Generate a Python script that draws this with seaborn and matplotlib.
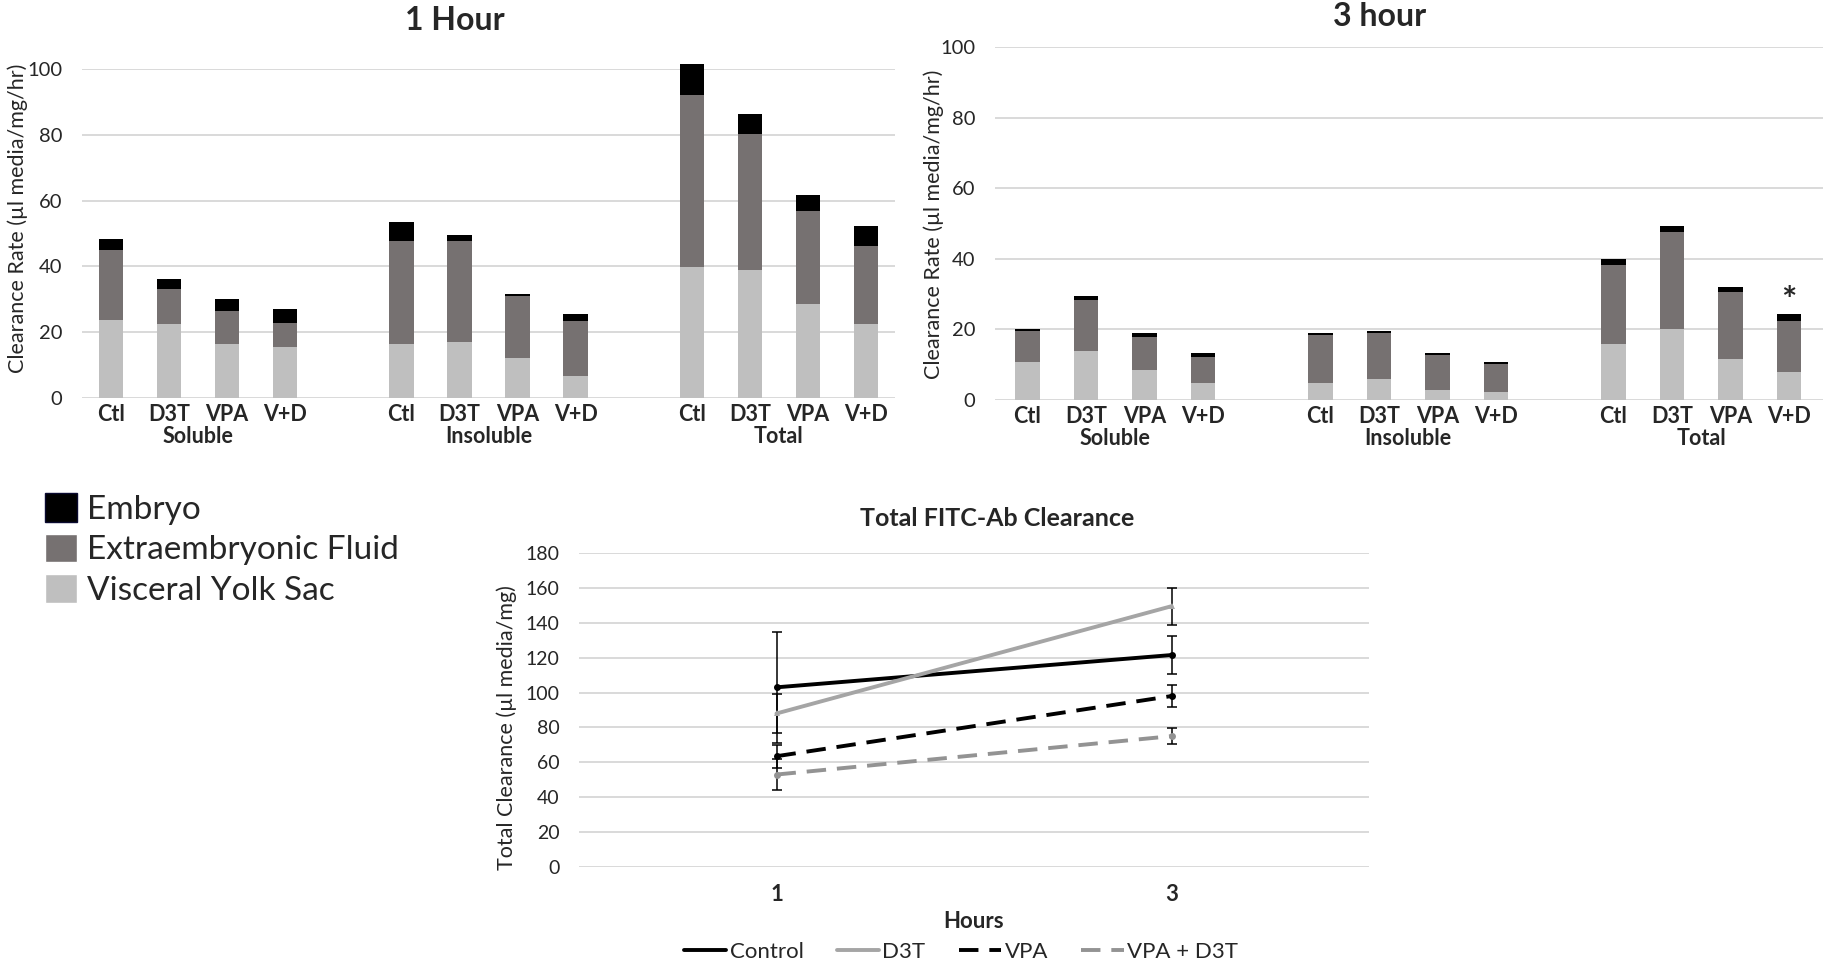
import numpy as np
import pandas as pd
import seaborn as sns
import matplotlib.pyplot as plt
from matplotlib.patches import Patch
from matplotlib.lines import Line2D

sns.set_theme(style="white")
plt.rcParams["font.family"] = ["Lato", "DejaVu Sans"]

COLORS = {
    "embryo": "#000000",
    "fluid": "#767171",
    "yolk": "#BFBFBF",
    "grid": "#D9D9D9",
}

groups = ["Soluble", "Insoluble", "Total"]
treatments = ["Ctl", "D3T", "VPA", "V+D"]

# 1 hour - stacked segments (Soluble x4, Insoluble x4, Total x4)
h1_yolk = [23.6, 22.4, 16.3, 15.5, 16.3, 16.9, 12.3, 6.8, 39.7, 39.0, 28.5, 22.4]
h1_fluid = [21.3, 10.6, 10.0, 7.4, 31.4, 30.9, 18.6, 16.6, 52.4, 41.2, 28.4, 23.8]
h1_embryo = [3.3, 3.2, 3.9, 4.0, 5.8, 1.7, 0.6, 2.1, 9.5, 6.0, 4.7, 6.0]

# 3 hour
h3_yolk = [10.9, 14.0, 8.5, 4.7, 4.7, 6.0, 2.8, 2.2, 15.9, 20.1, 11.5, 7.8]
h3_fluid = [8.7, 14.4, 9.3, 7.5, 13.7, 13.1, 9.9, 8.1, 22.4, 27.4, 19.2, 14.7]
h3_embryo = [0.5, 1.1, 1.2, 1.1, 0.7, 0.5, 0.5, 0.6, 1.8, 1.8, 1.3, 1.9]

# Total FITC-Ab clearance
hours = ["1", "3"]
series = ["Control", "D3T", "VPA", "VPA + D3T"]
clear_mean = {
    "Control": [103.0, 121.5],
    "D3T": [88.0, 149.5],
    "VPA": [63.5, 98.0],
    "VPA + D3T": [53.0, 75.0],
}
clear_err = {
    "Control": [32.0, 11.0],
    "D3T": [11.0, 10.5],
    "VPA": [6.5, 6.5],
    "VPA + D3T": [9.0, 4.6],
}
line_colors = {"Control": "#000000", "D3T": "#A5A5A5", "VPA": "#000000", "VPA + D3T": "#939393"}
line_dashes = {"Control": "", "D3T": "", "VPA": (5, 2.8), "VPA + D3T": (5, 2.8)}
line_markers = {"Control": "o", "D3T": "^", "VPA": "o", "VPA + D3T": "o"}

# orden de categorias con huecos entre grupos
order = []
for i, g in enumerate(groups):
    if i > 0:
        order.append(f"gap{i}")
    order += [f"{g} {t}" for t in treatments]
tick_labels = ["" if k.startswith("gap") else k.split(" ")[1] for k in order]


def bar_frame(yolk, fluid, embryo):
    keys = [f"{g} {t}" for g in groups for t in treatments]
    df = pd.DataFrame({"key": keys, "yolk": yolk, "fluid": fluid, "embryo": embryo})
    df["top_fluid"] = df["yolk"] + df["fluid"]
    df["top_all"] = df["top_fluid"] + df["embryo"]
    return df


def stacked_panel(ax, df, xlim, ylim):
    for col, c in [("top_all", COLORS["embryo"]), ("top_fluid", COLORS["fluid"]), ("yolk", COLORS["yolk"])]:
        sns.barplot(data=df, x="key", y=col, order=order, color=c, width=0.42,
                    saturation=1, errorbar=None, ax=ax)
    for p in ax.patches:
        p.set_clip_on(False)
        p.set_linewidth(0)
    ax.set_xlim(*xlim)
    ax.set_ylim(*ylim)
    ax.set_yticks(range(0, 101, 20))
    ax.set_xticks(range(len(order)))
    ax.set_xticklabels(tick_labels, fontsize=15.5, fontweight="bold")
    ax.tick_params(axis="y", labelsize=14.5, pad=14, length=0)
    ax.tick_params(axis="x", pad=4, length=0)
    ax.set_xlabel("")
    ax.set_ylabel("")
    ax.grid(axis="y", color=COLORS["grid"], linewidth=1.4)
    ax.set_axisbelow(True)
    for s in ax.spines.values():
        s.set_visible(False)
    for i, g in enumerate(groups):
        ax.annotate(g, xy=(i * 5 + 1.5, 0), xycoords=("data", "axes fraction"),
                    xytext=(0, -28), textcoords="offset points",
                    ha="center", va="center", fontsize=15.5, fontweight="bold")


fig = plt.figure(figsize=(18.27, 9.68), dpi=100)
W, H = 1827, 968

ax1 = fig.add_axes([82 / W, 1 - 398 / H, 813 / W, 329 / H])
stacked_panel(ax1, bar_frame(h1_yolk, h1_fluid, h1_embryo), (-0.5, 13.5), (0, 100))

ax2 = fig.add_axes([995 / W, 1 - 400 / H, 828 / W, 352.7 / H])
df3 = bar_frame(h3_yolk, h3_fluid, h3_embryo)
stacked_panel(ax2, df3, (-0.55, 13.58), (0, 100))
ax2.annotate("*", xy=(order.index("Total V+D"), df3["top_all"].iloc[-1]),
             xytext=(0, 9), textcoords="offset points",
             ha="center", va="center", fontsize=26, fontweight="bold")

fig.text(455 / W, 1 - 20 / H, "1 Hour", ha="center", va="center", fontsize=23, fontweight="bold")
fig.text(1380 / W, 1 - 17 / H, "3 hour", ha="center", va="center", fontsize=23, fontweight="bold")
fig.text(18 / W, 1 - 218 / H, "Clearance Rate (\u00b5l media/mg/hr)", rotation=90,
         ha="center", va="center", fontsize=15.5)
fig.text(934 / W, 1 - 224 / H, "Clearance Rate (\u00b5l media/mg/hr)", rotation=90,
         ha="center", va="center", fontsize=15.5)

# leyenda de las barras
bar_handles = [Patch(facecolor=COLORS["embryo"], edgecolor="#0A0A30", label="Embryo"),
               Patch(facecolor=COLORS["fluid"], label="Extraembryonic Fluid"),
               Patch(facecolor=COLORS["yolk"], label="Visceral Yolk Sac")]
fig.legend(handles=bar_handles, loc="upper left", bbox_to_anchor=(45 / W, 1 - 493 / H),
           frameon=False, fontsize=24, handlelength=0.95, handleheight=0.95,
           handletextpad=0.3, labelspacing=0.26, borderaxespad=0, borderpad=0)

# linea - Total FITC-Ab Clearance
ax3 = fig.add_axes([579 / W, 1 - 867 / H, 790 / W, 314 / H])
rows = []
for s in series:
    for i, h in enumerate(hours):
        rows.append({"series": s, "pos": i, "value": clear_mean[s][i], "err": clear_err[s][i]})
lines = pd.DataFrame(rows)

sns.lineplot(data=lines, x="pos", y="value", hue="series", style="series",
             palette=line_colors, dashes=line_dashes, markers=line_markers,
             markersize=5, markeredgewidth=0, linewidth=2.8, errorbar=None,
             legend=False, ax=ax3)
for s in series:
    sub = lines[lines["series"] == s]
    ax3.errorbar(sub["pos"], sub["value"], yerr=sub["err"], fmt="none",
                 ecolor="black", elinewidth=1.1, capsize=3.5, capthick=1.1, zorder=1)

ax3.set_xlim(-0.5, 1.5)
ax3.set_ylim(0, 180)
ax3.set_yticks(range(0, 181, 20))
ax3.set_xticks(range(len(hours)))
ax3.set_xticklabels(hours, fontsize=16, fontweight="bold")
ax3.tick_params(axis="y", labelsize=14, pad=14, length=0)
ax3.tick_params(axis="x", pad=12, length=0)
ax3.set_xlabel("")
ax3.set_ylabel("")
ax3.grid(axis="y", color=COLORS["grid"], linewidth=1.4)
ax3.set_axisbelow(True)
for sp in ax3.spines.values():
    sp.set_visible(False)
ax3.annotate("Hours", xy=(0.5, 0), xycoords="axes fraction", xytext=(0, -39),
             textcoords="offset points", ha="center", va="center",
             fontsize=16, fontweight="bold")

fig.text(997 / W, 1 - 518 / H, "Total FITC-Ab Clearance", ha="center", va="center",
         fontsize=18, fontweight="bold")
fig.text(507 / W, 1 - 728 / H, "Total Clearance (\u00b5l media/mg)", rotation=90,
         ha="center", va="center", fontsize=15.5)

line_handles = [Line2D([0], [0], color=line_colors[s], linewidth=2.8,
                       dashes=line_dashes[s] if line_dashes[s] else (None, None),
                       label=s) for s in series]
fig.legend(handles=line_handles, loc="center", bbox_to_anchor=(961 / W, 1 - 952 / H),
           ncol=4, frameon=False, fontsize=16, handlelength=1.9,
           handletextpad=0.15, columnspacing=1.5)

fig.savefig("out.png", dpi=100)
